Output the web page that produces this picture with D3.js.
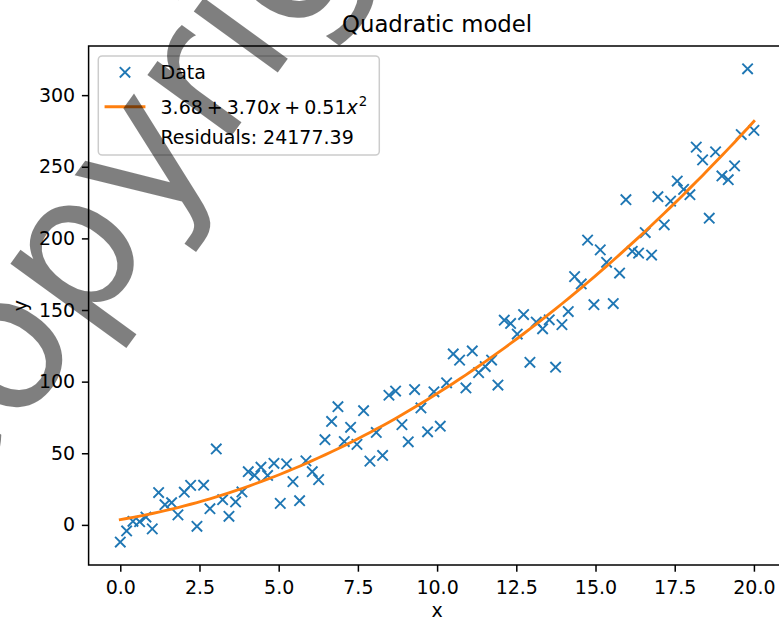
<!DOCTYPE html>
<html>
<head>
<meta charset="utf-8">
<script src="https://cdn.jsdelivr.net/npm/d3@7"></script>
<style>
body { margin: 0; background: #fff; }
svg text { font-family: "DejaVu Sans", sans-serif; fill: #000; }
</style>
</head>
<body>
<div id="chart"></div>
<script>
const xValues = [0, 0.2, 0.4, 0.61, 0.81, 1.01, 1.21, 1.41, 1.62, 1.82,
  2.02, 2.22, 2.42, 2.63, 2.83, 3.03, 3.23, 3.43, 3.64, 3.84,
  4.04, 4.24, 4.44, 4.65, 4.85, 5.05, 5.25, 5.45, 5.66, 5.86,
  6.06, 6.26, 6.46, 6.67, 6.87, 7.07, 7.27, 7.47, 7.68, 7.88,
  8.08, 8.28, 8.48, 8.69, 8.89, 9.09, 9.29, 9.49, 9.7, 9.9,
  10.1, 10.3, 10.51, 10.71, 10.91, 11.11, 11.31, 11.52, 11.72, 11.92,
  12.12, 12.32, 12.53, 12.73, 12.93, 13.13, 13.33, 13.54, 13.74, 13.94,
  14.14, 14.34, 14.55, 14.75, 14.95, 15.15, 15.35, 15.56, 15.76, 15.96,
  16.16, 16.36, 16.57, 16.77, 16.97, 17.17, 17.37, 17.58, 17.78, 17.98,
  18.18, 18.38, 18.59, 18.79, 18.99, 19.19, 19.39, 19.6, 19.8, 20];

const yValues = [-12, -4.2, 2.5, 2.2, 5.5, -2.8, 22.6, 14.1, 15.5, 7,
  22.8, 27.6, -1, 27.7, 11.3, 53, 17.6, 6, 16, 23,
  37.1, 34.6, 40.3, 34.5, 43, 15, 42.6, 30.2, 16.9, 44.7,
  37.1, 31.6, 59.5, 72.2, 82.5, 58.2, 68.1, 56.2, 79.7, 44.5,
  64.5, 48.5, 90.5, 93.4, 70, 58, 94.5, 81.6, 65, 92.9,
  68.9, 99.2, 119.3, 115, 95.6, 121.4, 106.3, 110.5, 115.1, 97.6,
  142.9, 140.6, 133.2, 146.8, 113.5, 141.6, 136.9, 143.2, 110.1, 139.8,
  148.9, 173.3, 168.2, 198.8, 153.7, 192, 183.3, 154.5, 175.8, 227,
  191, 189.7, 204.1, 188.4, 229.1, 209.5, 226, 240, 234.2, 230.5,
  263.7, 254.8, 214.1, 260.4, 243.6, 241, 250.6, 272.5, 318.4, 275.4];

// fitted model from the legend: c0 + c1*x + c2*x^2
const coef = [3.68, 3.70, 0.51];

const xTicks = [0, 2.5, 5, 7.5, 10, 12.5, 15, 17.5, 20];
const yTicks = [0, 50, 100, 150, 200, 250, 300];

const titleText = "Quadratic model";
const dataLabel = "Data";
const residualLabel = "Residuals: 24177.39";

const w = 779;
const h = 621;
const axLeft = 88.6, axRight = 785.6, axTop = 46, axBottom = 565;

const blue = "#1f77b4";
const orange = "#ff7f0e";

const xScale = d3.scaleLinear().domain([-1, 21]).range([axLeft, axRight]);
const yScale = d3.scaleLinear().domain([-28, 334.3]).range([axBottom, axTop]);

const svg = d3.select("#chart")
  .append("svg")
  .attr("width", w)
  .attr("height", h);

svg.append("clipPath").attr("id", "plot-clip")
  .append("rect")
  .attr("x", axLeft).attr("y", axTop)
  .attr("width", axRight - axLeft).attr("height", axBottom - axTop);

const plot = svg.append("g").attr("clip-path", "url(#plot-clip)");

// data markers as "x"
const ms = 5.2;
const points = xValues.map((x, i) => ({x: x, y: yValues[i]}));
plot.selectAll(".pt")
  .data(points)
  .enter()
  .append("path")
  .attr("class", "pt")
  .attr("transform", d => `translate(${xScale(d.x)},${yScale(d.y)})`)
  .attr("d", `M${-ms},${-ms}L${ms},${ms}M${-ms},${ms}L${ms},${-ms}`)
  .attr("stroke", blue)
  .attr("stroke-width", 1.9)
  .attr("fill", "none");

// fitted curve
const fit = xValues.map(x => ({x: x, y: coef[0] + coef[1] * x + coef[2] * x * x}));
const line = d3.line().x(d => xScale(d.x)).y(d => yScale(d.y));
plot.append("path")
  .datum(fit)
  .attr("d", line)
  .attr("fill", "none")
  .attr("stroke", orange)
  .attr("stroke-width", 2.85)
  .attr("stroke-linecap", "square");

// axes
const xAxis = d3.axisBottom(xScale)
  .tickValues(xTicks)
  .tickFormat(d3.format(".1f"))
  .tickSize(6.7)
  .tickPadding(8.5);

const yAxis = d3.axisLeft(yScale)
  .tickValues(yTicks)
  .tickFormat(d3.format("d"))
  .tickSize(6.7)
  .tickPadding(6.7);

const gx = svg.append("g")
  .attr("transform", `translate(0,${axBottom})`)
  .call(xAxis);

const gy = svg.append("g")
  .attr("transform", `translate(${axLeft},0)`)
  .call(yAxis);

[gx, gy].forEach(g => {
  g.select(".domain").remove();
  g.attr("font-size", 19).attr("font-family", "DejaVu Sans");
  g.selectAll(".tick line").attr("stroke", "#000").attr("stroke-width", 1.5);
  g.selectAll(".tick text").attr("fill", "#000");
});

svg.append("rect")
  .attr("x", axLeft).attr("y", axTop)
  .attr("width", axRight - axLeft).attr("height", axBottom - axTop)
  .attr("fill", "none")
  .attr("stroke", "#000")
  .attr("stroke-width", 1.5);

// title and axis labels
svg.append("text")
  .text(titleText)
  .attr("x", (axLeft + axRight) / 2)
  .attr("y", 32)
  .attr("text-anchor", "middle")
  .attr("font-size", 22.8);

svg.append("text")
  .text("x")
  .attr("x", (axLeft + axRight) / 2)
  .attr("y", 617)
  .attr("text-anchor", "middle")
  .attr("font-size", 19);

svg.append("text")
  .text("y")
  .attr("transform", `translate(27,${(axTop + axBottom) / 2}) rotate(-90)`)
  .attr("text-anchor", "middle")
  .attr("font-size", 19);

// legend
const legend = svg.append("g");
legend.append("rect")
  .attr("x", 98.3).attr("y", 56)
  .attr("width", 281).attr("height", 99)
  .attr("rx", 3.8)
  .attr("fill", "#fff")
  .attr("fill-opacity", 0.8)
  .attr("stroke", "#cccccc")
  .attr("stroke-width", 1.5);

legend.append("path")
  .attr("transform", "translate(125,72.3)")
  .attr("d", `M${-ms},${-ms}L${ms},${ms}M${-ms},${ms}L${ms},${-ms}`)
  .attr("stroke", blue)
  .attr("stroke-width", 1.9)
  .attr("fill", "none");

legend.append("text")
  .text(dataLabel)
  .attr("x", 160.5).attr("y", 79)
  .attr("font-size", 19);

legend.append("line")
  .attr("x1", 106).attr("x2", 144)
  .attr("y1", 106.7).attr("y2", 106.7)
  .attr("stroke", orange)
  .attr("stroke-width", 2.85)
  .attr("stroke-linecap", "square");

const fx = legend.append("text")
  .attr("x", 160.5).attr("y", 114)
  .attr("font-size", 19);
fx.append("tspan").text(coef[0].toFixed(2));
fx.append("tspan").attr("dx", 4).text("+");
fx.append("tspan").attr("dx", 4).text(coef[1].toFixed(2));
fx.append("tspan").attr("font-style", "italic").text("x");
fx.append("tspan").attr("dx", 4).text("+");
fx.append("tspan").attr("dx", 4).text(coef[2].toFixed(2));
fx.append("tspan").attr("font-style", "italic").text("x");
fx.append("tspan").attr("dx", 1).attr("dy", -8).attr("font-size", 13.3).text("2");

legend.append("text")
  .text(residualLabel)
  .attr("x", 160.5).attr("y", 144)
  .attr("font-size", 19);

// watermark overlay
svg.append("g")
  .attr("transform", "translate(-62,540) rotate(-54)")
  .attr("pointer-events", "none")
  .append("text")
  .text("Copyright")
  .attr("font-size", 190)
  .attr("fill", "#595959")
  .attr("fill-opacity", 0.5);
</script>
</body>
</html>
